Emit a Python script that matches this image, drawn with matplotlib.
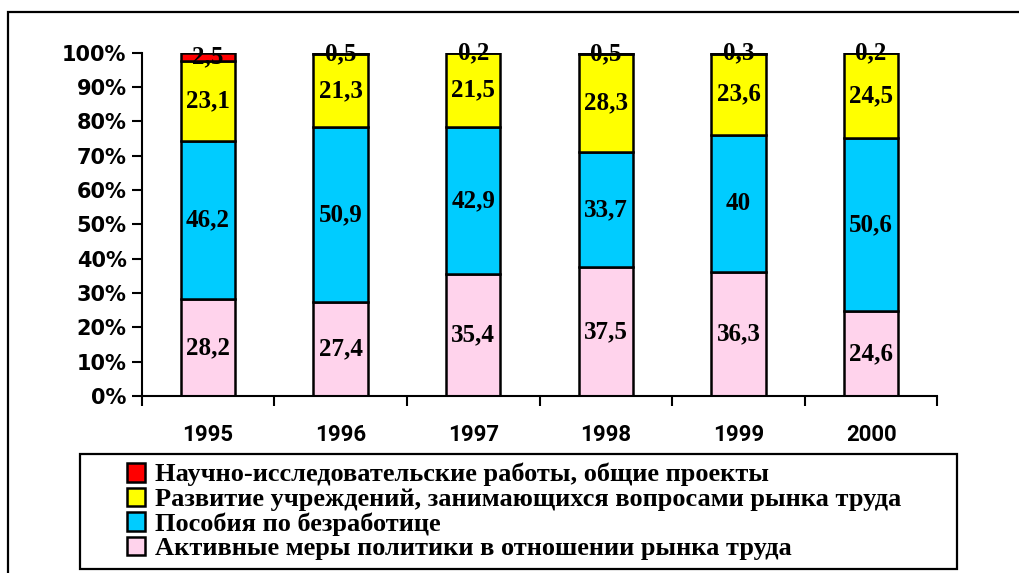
import numpy as np
import matplotlib
matplotlib.use("Agg")
import matplotlib.pyplot as plt
from matplotlib.patches import Rectangle, Patch

years = ["1995", "1996", "1997", "1998", "1999", "2000"]

# shares, %
active = [28.2, 27.4, 35.4, 37.5, 36.3, 24.6]
benefits = [46.2, 50.9, 42.9, 33.7, 40, 50.6]
institutions = [23.1, 21.3, 21.5, 28.3, 23.6, 24.5]
research = [2.5, 0.5, 0.2, 0.5, 0.3, 0.2]

names = [
    "Научно-исследовательские работы, общие проекты",
    "Развитие учреждений, занимающихся вопросами рынка труда",
    "Пособия по безработице",
    "Активные меры политики в отношении рынка труда",
]

series = [active, benefits, institutions, research]
colors = ["#ffd3ec", "#00ccff", "#ffff00", "#ff0000"]

def fmt(v):
    s = ("%.1f" % v).rstrip("0").rstrip(".")
    return s.replace(".", ",")

data = np.array(series, dtype=float)
totals = data.sum(axis=0)
pct = data / totals * 100

fig = plt.figure(figsize=(10.2, 5.73), dpi=100)
ax = fig.add_axes([0.139, 0.309, 0.780, 0.599])

x = np.arange(len(years))
bottom = np.zeros(len(years))
for i in range(4):
    ax.bar(x, pct[i], bottom=bottom, width=0.41, color=colors[i],
           edgecolor="black", linewidth=1.8, zorder=2)
    for j in range(len(years)):
        ax.text(x[j], bottom[j] + pct[i][j] / 2, fmt(data[i][j]),
                ha="center", va="center", fontsize=18, fontweight="bold",
                family="Liberation Serif", zorder=3)
    bottom += pct[i]

ax.set_xlim(-0.5, len(years) - 0.5)
ax.set_ylim(0, 100)
ax.set_yticks(np.arange(0, 101, 10))
ax.set_yticklabels(["%d%%" % v for v in range(0, 101, 10)],
                   family="DejaVu Sans", fontweight="bold", fontsize=15)
ax.set_xticks(x)
ax.set_xticklabels(years, family="Roboto", fontweight="bold", fontsize=16)
ax.set_xticks(np.arange(-0.5, len(years)), minor=True)
ax.tick_params(axis="x", which="major", length=0, pad=20)
ax.tick_params(axis="x", which="minor", length=7, width=1.5, direction="out")
ax.tick_params(axis="y", length=7, width=1.5, direction="out", pad=4)
for side in ["top", "right"]:
    ax.spines[side].set_visible(False)
for side in ["left", "bottom"]:
    ax.spines[side].set_linewidth(1.5)

# outer frame of the picture
fig.patches.append(Rectangle((8 / 1020, -0.05), 1.1, 1 - 12 / 573 + 0.05,
                             transform=fig.transFigure, fill=False,
                             edgecolor="black", linewidth=1.6))
# legend box
fig.patches.append(Rectangle((80 / 1020, 1 - 569 / 573), 877 / 1020, 115 / 573,
                             transform=fig.transFigure, fill=False,
                             edgecolor="black", linewidth=1.6))

handles = [Patch(facecolor=colors[3 - k], edgecolor="black", linewidth=1.8)
           for k in range(4)]
fig.legend(handles, names, loc="upper left",
           bbox_to_anchor=(127 / 1020, 1 - 463 / 573), frameon=False,
           prop={"family": "Liberation Serif", "weight": "bold", "size": 19},
           handlelength=0.7, handleheight=0.7, handletextpad=0.35,
           labelspacing=0.04, borderpad=0.0, borderaxespad=0.0)

fig.savefig("out.png", dpi=100)
